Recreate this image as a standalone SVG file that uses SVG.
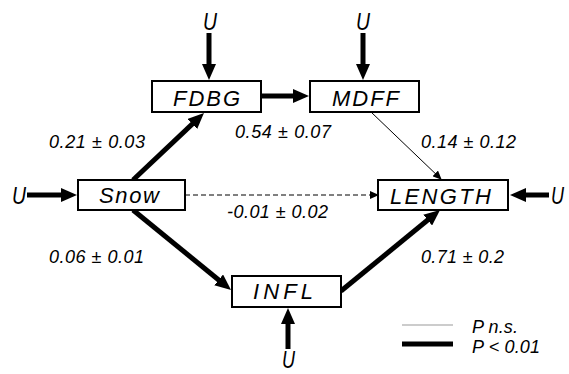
<svg xmlns="http://www.w3.org/2000/svg" width="569" height="374" viewBox="0 0 569 374">
<style>
.box{fill:#fff;stroke:#000;stroke-width:2}
.nl{font-family:"Liberation Sans",Arial,sans-serif;font-style:italic;font-size:22px;fill:#000}
.lb{font-family:"Liberation Sans",Arial,sans-serif;font-style:italic;font-size:18px;fill:#000}
.u{font-family:"Liberation Sans",Arial,sans-serif;font-style:italic;font-size:24px;fill:#000}
.thick{stroke:#000;stroke-width:5;fill:none;marker-end:url(#big)}
.thin{stroke:#000;stroke-width:1;fill:none;marker-end:url(#small)}
.dash{stroke:#000;stroke-width:1;fill:none;stroke-dasharray:5,3;marker-end:url(#small)}
</style>
<defs>
<marker id="big" markerUnits="userSpaceOnUse" markerWidth="16" markerHeight="14" refX="6" refY="7" orient="auto">
<path d="M0,0 L16,7 L0,14 z" fill="#000"/>
</marker>
<marker id="small" markerUnits="userSpaceOnUse" markerWidth="9" markerHeight="8" refX="8" refY="4" orient="auto">
<path d="M0,0 L9,4 L0,8 z" fill="#000"/>
</marker>
</defs>
<rect width="569" height="374" fill="#fff"/>
<g id="connectors">
<line class="thick" x1="209" y1="33" x2="209" y2="70"/>
<line class="thick" x1="363" y1="33" x2="363" y2="70"/>
<line class="thick" x1="27" y1="195" x2="67" y2="195"/>
<line class="thick" x1="549" y1="195" x2="520" y2="195"/>
<line class="thick" x1="288" y1="349" x2="288" y2="318"/>
<line class="thick" x1="261" y1="96" x2="299" y2="96"/>
<line class="thick" x1="133" y1="180" x2="196.7" y2="119.9"/>
<line class="thick" x1="133" y1="210" x2="223.3" y2="283.7"/>
<line class="thick" x1="341" y1="291" x2="432.3" y2="216.3"/>
<line class="thin" x1="371" y1="112" x2="441" y2="179"/>
<line class="dash" x1="185" y1="195" x2="378" y2="195"/>
</g>
<g id="FDBG"><rect class="box" x="152" y="81" width="109" height="31"/><text class="nl" x="173" y="106" textLength="67" lengthAdjust="spacing">FDBG</text></g>
<g id="MDFF"><rect class="box" x="310" y="81" width="109" height="31"/><text class="nl" x="332" y="106" textLength="67" lengthAdjust="spacing">MDFF</text></g>
<g id="Snow"><rect class="box" x="78" y="180" width="107" height="30"/><text class="nl" x="99" y="203" textLength="60" lengthAdjust="spacing">Snow</text></g>
<g id="LENGTH"><rect class="box" x="378" y="180" width="130" height="30"/><text class="nl" x="390" y="204" textLength="101" lengthAdjust="spacing">LENGTH</text></g>
<g id="INFL"><rect class="box" x="232" y="276" width="109" height="31"/><text class="nl" x="253" y="299" textLength="60" lengthAdjust="spacing">INFL</text></g>
<g id="labels">
<text class="u" x="203" y="30" textLength="14" lengthAdjust="spacingAndGlyphs">U</text>
<text class="u" x="356" y="30" textLength="14" lengthAdjust="spacingAndGlyphs">U</text>
<text class="u" x="12" y="204" textLength="14" lengthAdjust="spacingAndGlyphs">U</text>
<text class="u" x="551" y="204" textLength="13" lengthAdjust="spacingAndGlyphs">U</text>
<text class="u" x="282" y="368" font-size="22" textLength="13" lengthAdjust="spacingAndGlyphs">U</text>
<text class="lb" x="49" y="148" textLength="96" lengthAdjust="spacing">0.21 ± 0.03</text>
<text class="lb" x="235" y="138" textLength="96" lengthAdjust="spacing">0.54 ± 0.07</text>
<text class="lb" x="421" y="148" textLength="95" lengthAdjust="spacing">0.14 ± 0.12</text>
<text class="lb" x="227" y="218" textLength="101" lengthAdjust="spacing">-0.01 ± 0.02</text>
<text class="lb" x="49" y="263" textLength="95" lengthAdjust="spacing">0.06 ± 0.01</text>
<text class="lb" x="421" y="263" textLength="83" lengthAdjust="spacing">0.71 ± 0.2</text>
</g>
<g id="legend">
<line x1="402" y1="325" x2="453" y2="325" stroke="#999" stroke-width="1"/>
<line x1="402" y1="344" x2="453" y2="344" stroke="#000" stroke-width="5"/>
<text class="lb" x="472" y="333" textLength="46" lengthAdjust="spacing">P n.s.</text>
<text class="lb" x="472" y="353" textLength="68" lengthAdjust="spacing">P &lt; 0.01</text>
</g>
</svg>
